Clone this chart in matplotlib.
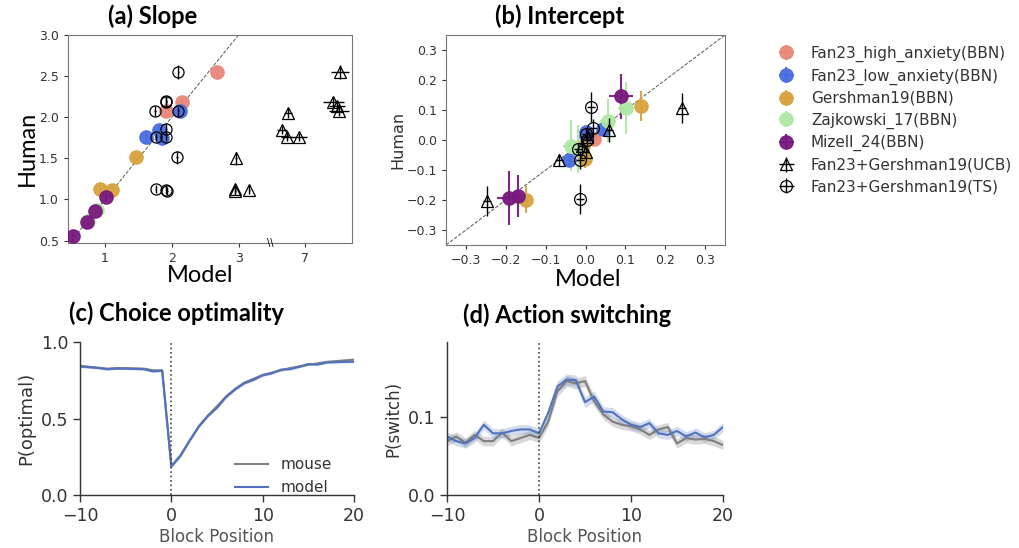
import numpy as np
import matplotlib
matplotlib.use('Agg')
import matplotlib.pyplot as plt

W, H = 1020, 548

# ---------------- data: (a) slope ----------------
slope_high_x = [2.68, 2.16, 1.92]
slope_high_y = [2.55, 2.18, 2.08]
slope_low_x = [1.62, 1.81, 1.86, 2.12]
slope_low_y = [1.76, 1.85, 1.75, 2.07]
slope_gersh_x = [1.47, 0.92, 1.10]
slope_gersh_y = [1.51, 1.13, 1.12]
slope_zaj_x = [0.88, 0.74]
slope_zaj_y = [0.87, 0.74]
slope_miz_x = [0.52, 0.73, 0.85, 1.02]
slope_miz_y = [0.56, 0.72, 0.86, 1.03]
slope_ucb_x = [2.96, 2.95, 2.95, 3.16, 6.74, 6.65, 6.72, 6.90, 7.52, 7.42, 7.48, 7.50]
slope_ucb_y = [1.50, 1.13, 1.10, 1.12, 2.05, 1.84, 1.76, 1.76, 2.55, 2.18, 2.14, 2.08]
slope_ucb_xerr = [0.01, 0.01, 0.01, 0.01, 0.06, 0.08, 0.08, 0.12, 0.14, 0.16, 0.12, 0.15]
slope_ucb_yerr = [0.08, 0.05, 0.05, 0.05, 0.06, 0.05, 0.05, 0.05, 0.08, 0.06, 0.06, 0.06]
slope_ts_x = [2.10, 1.92, 1.92, 1.75, 2.10, 1.92, 1.76, 1.92, 2.08, 1.76, 1.92, 1.93]
slope_ts_y = [2.55, 2.20, 2.18, 2.08, 2.07, 1.86, 1.76, 1.76, 1.51, 1.13, 1.12, 1.10]
slope_ts_yerr = [0.08, 0.06, 0.06, 0.06, 0.05, 0.06, 0.05, 0.05, 0.08, 0.05, 0.05, 0.05]

# ---------------- data: (b) intercept ----------------
int_high_x = [0.022, -0.014, 0.010]
int_high_y = [0.003, -0.030, 0.010]
int_low_x = [0.045, 0.002, -0.041, 0.000]
int_low_y = [0.037, 0.028, -0.066, 0.015]
int_gersh_x = [0.139, -0.150, -0.002, -0.006]
int_gersh_y = [0.113, -0.199, -0.062, -0.019]
int_gersh_yerr = [0.05, 0.045, 0.03, 0.03]
int_zaj_x = [0.101, 0.056, -0.036, -0.020]
int_zaj_y = [0.107, 0.065, -0.019, -0.030]
int_zaj_yerr = [0.087, 0.073, 0.085, 0.08]
int_zaj_xerr = [0.02, 0.02, 0.02, 0.01]
int_miz_x = [0.089, -0.193, -0.170]
int_miz_y = [0.146, -0.193, -0.186]
int_miz_yerr = [0.075, 0.09, 0.07]
int_miz_xerr = [0.03, 0.03, 0.01]
int_ucb_x = [0.242, 0.058, -0.066, -0.247, 0.005, -0.010, 0.000]
int_ucb_y = [0.107, 0.033, -0.066, -0.202, 0.010, -0.020, -0.040]
int_ucb_yerr = [0.05, 0.04, 0.02, 0.05, 0.02, 0.02, 0.02]
int_ts_x = [0.014, 0.020, -0.014, -0.015, -0.020, 0.000, 0.005]
int_ts_y = [0.110, 0.040, -0.065, -0.196, -0.030, 0.020, 0.000]
int_ts_yerr = [0.05, 0.03, 0.03, 0.05, 0.02, 0.02, 0.02]

labels = ['Fan23_high_anxiety(BBN)', 'Fan23_low_anxiety(BBN)', 'Gershman19(BBN)',
          'Zajkowski_17(BBN)', 'Mizell_24(BBN)', 'Fan23+Gershman19(UCB)', 'Fan23+Gershman19(TS)']
colors = ['#e8877a', '#4a6de0', '#d6a33e', '#aee8a4', '#78197e']

# ---------------- data: (c), (d) ----------------
block_pos = list(range(-10, 21))
opt_mouse = [0.845, 0.838, 0.832, 0.826, 0.830, 0.829, 0.828, 0.826, 0.815, 0.815, 0.190,
             0.260, 0.355, 0.450, 0.520, 0.580, 0.645, 0.695, 0.735, 0.760, 0.785,
             0.800, 0.815, 0.830, 0.840, 0.852, 0.860, 0.870, 0.875, 0.880, 0.885]
opt_model = [0.839, 0.835, 0.830, 0.822, 0.826, 0.826, 0.824, 0.822, 0.808, 0.812, 0.185,
             0.255, 0.355, 0.445, 0.515, 0.570, 0.640, 0.690, 0.730, 0.752, 0.782,
             0.795, 0.820, 0.822, 0.838, 0.856, 0.852, 0.866, 0.868, 0.870, 0.871]
opt_sem = [0.007, 0.007, 0.007, 0.007, 0.007, 0.007, 0.007, 0.007, 0.007, 0.007, 0.007,
           0.007, 0.007, 0.007, 0.007, 0.007, 0.007, 0.007, 0.007, 0.007, 0.007,
           0.007, 0.007, 0.007, 0.007, 0.007, 0.007, 0.007, 0.007, 0.007, 0.007]
sw_mouse = [0.069, 0.075, 0.067, 0.077, 0.069, 0.069, 0.080, 0.069, 0.073, 0.077, 0.073,
            0.094, 0.133, 0.146, 0.143, 0.146, 0.120, 0.103, 0.094, 0.090, 0.088,
            0.084, 0.077, 0.084, 0.087, 0.066, 0.073, 0.071, 0.072, 0.069, 0.064]
sw_model = [0.075, 0.069, 0.066, 0.073, 0.090, 0.079, 0.079, 0.082, 0.084, 0.084, 0.079,
            0.105, 0.139, 0.148, 0.147, 0.119, 0.126, 0.107, 0.106, 0.097, 0.090,
            0.087, 0.092, 0.079, 0.077, 0.082, 0.075, 0.080, 0.074, 0.077, 0.087]
sw_sem = [0.006, 0.006, 0.006, 0.006, 0.006, 0.006, 0.006, 0.006, 0.006, 0.006, 0.006,
          0.006, 0.007, 0.007, 0.007, 0.007, 0.007, 0.006, 0.006, 0.006, 0.006,
          0.006, 0.006, 0.006, 0.006, 0.006, 0.006, 0.006, 0.006, 0.006, 0.006]

plt.rcParams['font.family'] = ['DejaVu Sans']
fig = plt.figure(figsize=(W / 100, H / 100), dpi=100)


def rect(l, t, r, b):
    return [l / W, 1 - b / H, (r - l) / W, (b - t) / H]


TXT = '#333333'
HEAD = dict(family='Lato', fontweight='bold', color='black')
BIG = dict(family='Lato', fontsize=17, color='black')

# ---------------- (a) ----------------
ax = fig.add_axes(rect(68, 35, 352, 243))
SHIFT = 3.0


def fx(v):
    v = np.asarray(v, dtype=float)
    return np.where(v > 5, v - SHIFT, v)


ax.plot([0, 3.6], [0, 3.6], ls='--', color='#555555', lw=0.7, zorder=1)
bbn = [(slope_high_x, slope_high_y), (slope_low_x, slope_low_y), (slope_gersh_x, slope_gersh_y),
       (slope_zaj_x, slope_zaj_y), (slope_miz_x, slope_miz_y)]
for (xs, ys), c in zip(bbn, colors):
    ax.errorbar(fx(xs), ys, yerr=0.06, fmt='o', color=c, ms=9.5, alpha=0.95,
                elinewidth=1.5, capsize=0, zorder=3)
ax.errorbar(fx(slope_ucb_x), slope_ucb_y, xerr=slope_ucb_xerr, yerr=slope_ucb_yerr,
            fmt='^', mfc='none', mec='black', ecolor='black', ms=9, mew=0.9, elinewidth=1.0,
            capsize=0, zorder=4)
ax.errorbar(fx(slope_ts_x), slope_ts_y, xerr=0.01, yerr=slope_ts_yerr,
            fmt='o', mfc='none', mec='black', ecolor='black', ms=8, mew=0.9, elinewidth=1.0,
            capsize=0, zorder=4)
ax.set_xlim(0.445, 4.70)
ax.set_ylim(0.47, 3.0)
ax.set_xticks([1, 2, 3, 4])
ax.set_xticklabels(['1', '2', '3', '7'])
ax.set_yticks([0.5, 1.0, 1.5, 2.0, 2.5, 3.0])
ax.tick_params(labelsize=9, colors=TXT, length=3, width=0.8)
for s in ax.spines.values():
    s.set_color('#777777')
    s.set_linewidth(0.8)
ax.text(3.47, 0.47, '\\\\', ha='center', va='center', fontsize=7, color='black',
        clip_on=False, zorder=6)
fig.text(153 / W, 1 - 16 / H, '(a) Slope', ha='center', va='center', fontsize=17, **HEAD)
fig.text(200 / W, 1 - 275 / H, 'Model', ha='center', va='center', **BIG)
fig.text(27 / W, 1 - 148 / H, 'Human', ha='center', va='center', rotation=90, **BIG)

# ---------------- (b) ----------------
bx = fig.add_axes(rect(446, 35, 725, 245))
bx.plot([-0.35, 0.35], [-0.35, 0.35], ls='--', color='#555555', lw=0.7, zorder=1)
handles = []
bdata = [(int_high_x, int_high_y, 0.02, 0.0), (int_low_x, int_low_y, 0.02, 0.0),
         (int_gersh_x, int_gersh_y, int_gersh_yerr, 0.0),
         (int_zaj_x, int_zaj_y, int_zaj_yerr, int_zaj_xerr),
         (int_miz_x, int_miz_y, int_miz_yerr, int_miz_xerr)]
for (xs, ys, ye, xe), c in zip(bdata, colors):
    h = bx.errorbar(xs, ys, yerr=ye, xerr=xe, fmt='o', color=c, ms=9.5, alpha=0.95,
                    elinewidth=1.5, capsize=0, zorder=3)
    handles.append(h)
h = bx.errorbar(int_ucb_x, int_ucb_y, yerr=int_ucb_yerr, xerr=0.01, fmt='^', mfc='none',
                mec='black', ecolor='black', ms=9, mew=0.9, elinewidth=1.0, capsize=0, zorder=4)
handles.append(h)
h = bx.errorbar(int_ts_x, int_ts_y, yerr=int_ts_yerr, xerr=0.01, fmt='o', mfc='none',
                mec='black', ecolor='black', ms=8.5, mew=0.9, elinewidth=1.0, capsize=0, zorder=4)
handles.append(h)
bx.set_xlim(-0.35, 0.35)
bx.set_ylim(-0.35, 0.35)
ticks = [-0.3, -0.2, -0.1, 0.0, 0.1, 0.2, 0.3]
bx.set_xticks(ticks)
bx.set_yticks(ticks)
bx.tick_params(labelsize=9, colors=TXT, length=3, width=0.8)
for s in bx.spines.values():
    s.set_color('#777777')
    s.set_linewidth(0.8)
bx.set_ylabel('Human', fontsize=11.5, color=TXT, labelpad=1)
fig.text(560 / W, 1 - 16 / H, '(b) Intercept', ha='center', va='center', fontsize=17, **HEAD)
fig.text(588 / W, 1 - 280 / H, 'Model', ha='center', va='center', **BIG)

# legend
fig.legend(handles, labels, loc='upper left', bbox_to_anchor=(762 / W, 1 - 32 / H),
           frameon=False, fontsize=11, labelspacing=0.42, handletextpad=0.9,
           handlelength=1.4, labelcolor=TXT)

# ---------------- (c) ----------------
SPINE = '#333333'
BLUE = '#5272c0'
GRAY = '#7f7f7f'


def style_bottom(a):
    for k in ['top', 'right']:
        a.spines[k].set_visible(False)
    for k in ['left', 'bottom']:
        a.spines[k].set_color(SPINE)
        a.spines[k].set_linewidth(1.0)
    a.tick_params(labelsize=12.5, colors=TXT, length=5, width=1.0)


cx = fig.add_axes(rect(80, 342, 354, 495))
bp = np.array(block_pos)
cx.fill_between(bp, np.array(opt_mouse) - opt_sem, np.array(opt_mouse) + opt_sem,
                color=GRAY, alpha=0.3, lw=0)
cx.plot(bp, opt_mouse, color=GRAY, lw=1.5, label='mouse')
cx.fill_between(bp, np.array(opt_model) - opt_sem, np.array(opt_model) + opt_sem,
                color=BLUE, alpha=0.25, lw=0)
cx.plot(bp, opt_model, color=BLUE, lw=1.5, label='model')
cx.axvline(0, color='#444444', ls=':', lw=1.2)
cx.set_xlim(-10, 20)
cx.set_ylim(0, 1.0)
cx.set_yticks([0.0, 0.5, 1.0])
cx.set_xticks([-10, 0, 10, 20])
style_bottom(cx)
cx.set_ylabel('P(optimal)', fontsize=13, color=TXT, labelpad=4)
cx.set_xlabel('Block Position', fontsize=12, color='#555555', labelpad=2)
cx.legend(loc='lower right', frameon=False, fontsize=11, labelcolor=TXT,
          handlelength=2.2, bbox_to_anchor=(0.97, -0.09))
fig.text(177 / W, 1 - 313 / H, '(c) Choice optimality', ha='center', va='center', fontsize=17, **HEAD)

# ---------------- (d) ----------------
dx = fig.add_axes(rect(447, 342, 723, 495))
dx.fill_between(bp, np.array(sw_mouse) - sw_sem, np.array(sw_mouse) + sw_sem,
                color=GRAY, alpha=0.3, lw=0)
dx.plot(bp, sw_mouse, color=GRAY, lw=1.5)
dx.fill_between(bp, np.array(sw_model) - sw_sem, np.array(sw_model) + sw_sem,
                color=BLUE, alpha=0.25, lw=0)
dx.plot(bp, sw_model, color=BLUE, lw=1.5)
dx.axvline(0, color='#444444', ls=':', lw=1.2)
dx.set_xlim(-10, 20)
dx.set_ylim(0, 0.196)
dx.set_yticks([0.0, 0.1])
dx.set_xticks([-10, 0, 10, 20])
style_bottom(dx)
dx.set_ylabel('P(switch)', fontsize=12, color=TXT, labelpad=4)
dx.set_xlabel('Block Position', fontsize=12, color='#555555', labelpad=2)
fig.text(567 / W, 1 - 315 / H, '(d) Action switching', ha='center', va='center', fontsize=17, **HEAD)

fig.savefig('out.png', dpi=100)
